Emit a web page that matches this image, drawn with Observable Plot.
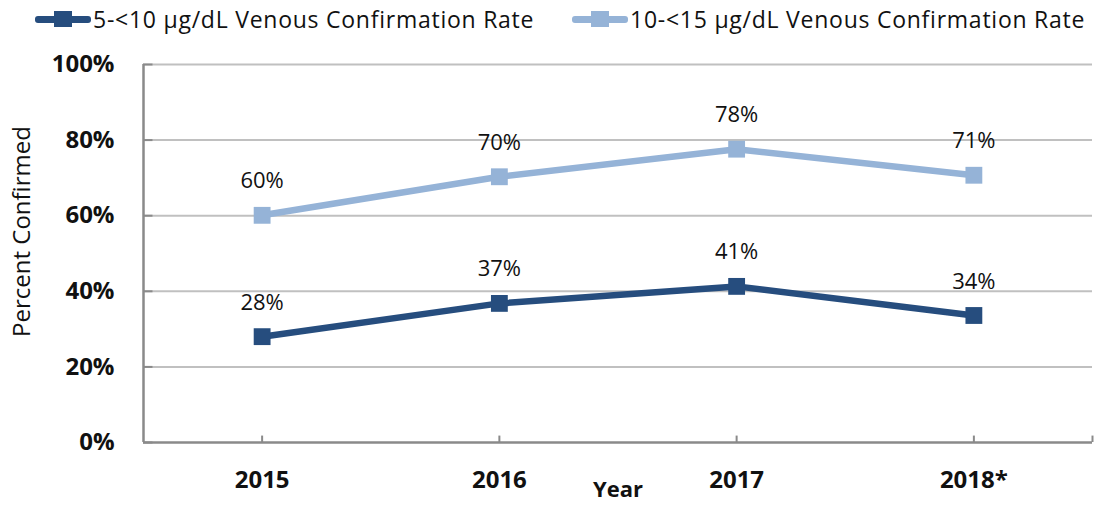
<!DOCTYPE html>
<html>
<head>
<meta charset="utf-8">
<script src="https://cdn.jsdelivr.net/npm/d3@7"></script>
<script src="https://cdn.jsdelivr.net/npm/@observablehq/plot@0.6"></script>
<style>
  html, body { margin: 0; padding: 0; background: #fff; }
  body { width: 1094px; height: 512px; overflow: hidden; font-family: "Open Sans", sans-serif; }
  #legend { position: relative; height: 38px; width: 1094px; }
  .item { position: absolute; top: 0; height: 38px; display: flex; align-items: center; font-size: 23px; letter-spacing: 0.75px; color: #111; white-space: nowrap; }
  .sw { position: relative; width: 56px; height: 20px; margin-right: 2px; }
  .sw .ln { position: absolute; left: 0; right: 0; top: 7px; height: 7px; border-radius: 3px; }
  .sw .sq { position: absolute; left: 19px; top: 2px; width: 18px; height: 16px; }
  #chart svg { display: block; }
</style>
</head>
<body>
<div id="legend"></div>
<div id="chart"></div>
<script>
const years = ["2015", "2016", "2017", "2018*"];
const seriesNames = ["5-<10 µg/dL Venous Confirmation Rate", "10-<15 µg/dL Venous Confirmation Rate"];
const seriesColors = ["#264D7E", "#95B3D7"];
const values5to10 = [28.0, 36.8, 41.3, 33.6];
const values10to15 = [60.1, 70.3, 77.6, 70.7];
const labels5to10 = ["28%", "37%", "41%", "34%"];
const labels10to15 = ["60%", "70%", "78%", "71%"];
const yTicks = [0, 20, 40, 60, 80, 100];

// legend
const legend = document.getElementById("legend");
const legendLeft = [35, 572];
seriesNames.forEach((name, i) => {
  const it = document.createElement("div");
  it.className = "item";
  it.style.left = legendLeft[i] + "px";
  it.innerHTML = `<div class="sw"><div class="ln" style="background:${seriesColors[i]}"></div><div class="sq" style="background:${seriesColors[i]}"></div></div><span>${name}</span>`;
  legend.appendChild(it);
});

const data = [];
years.forEach((y, i) => {
  data.push({series: seriesNames[0], x: i + 0.5, v: values5to10[i], label: labels5to10[i]});
  data.push({series: seriesNames[1], x: i + 0.5, v: values10to15[i], label: labels10to15[i]});
});
const tickXs = years.map((_, i) => i + 0.5).concat([years.length]);

const chart = Plot.plot({
  width: 1094,
  height: 474,
  marginTop: 26,
  marginBottom: 70,
  marginLeft: 143,
  marginRight: 2,
  style: {fontFamily: "Open Sans, sans-serif", background: "#fff"},
  x: {domain: [0, years.length], axis: null},
  y: {domain: [0, 100], axis: null},
  color: {domain: seriesNames, range: seriesColors},
  marks: [
    Plot.ruleY(yTicks.filter(d => d > 0), {stroke: "#c0c0c0", strokeWidth: 2}),
    Plot.ruleY(yTicks, {x1: 0, x2: 0.04, stroke: "#8a8a8a", strokeWidth: 2}),
    Plot.ruleY([0], {stroke: "#8a8a8a", strokeWidth: 2.5}),
    Plot.ruleX([0], {y1: 0, y2: 100, stroke: "#8a8a8a", strokeWidth: 2.5}),
    Plot.ruleX(tickXs, {y1: 0, y2: 1.7, stroke: "#8a8a8a", strokeWidth: 2}),
    Plot.axisY({ticks: yTicks, tickFormat: d => d + "%", tickSize: 0, tickPadding: 29, fontSize: 24, fontWeight: "bold", label: null, color: "#111"}),
    Plot.axisX({ticks: years.map((_, i) => i + 0.5), tickFormat: d => years[Math.round(d - 0.5)], tickSize: 0, tickPadding: 28, fontSize: 24, fontWeight: "bold", label: null, color: "#111"}),
    Plot.text(["Year"], {frameAnchor: "bottom", dy: 54, fontSize: 22, fontWeight: "bold", fill: "#111"}),
    Plot.text(["Percent Confirmed"], {frameAnchor: "left", textAnchor: "middle", dx: -121, dy: -22, rotate: -90, fontSize: 24, fill: "#111"}),
    Plot.line(data, {x: "x", y: "v", z: "series", stroke: "series", strokeWidth: 6.5}),
    Plot.dot(data, {x: "x", y: "v", fill: "series", symbol: "square", r: 9.5}),
    Plot.text(data, {x: "x", y: "v", text: "label", dy: -34, fontSize: 22, fill: "#111"})
  ]
});
document.getElementById("chart").appendChild(chart);
</script>
</body>
</html>
